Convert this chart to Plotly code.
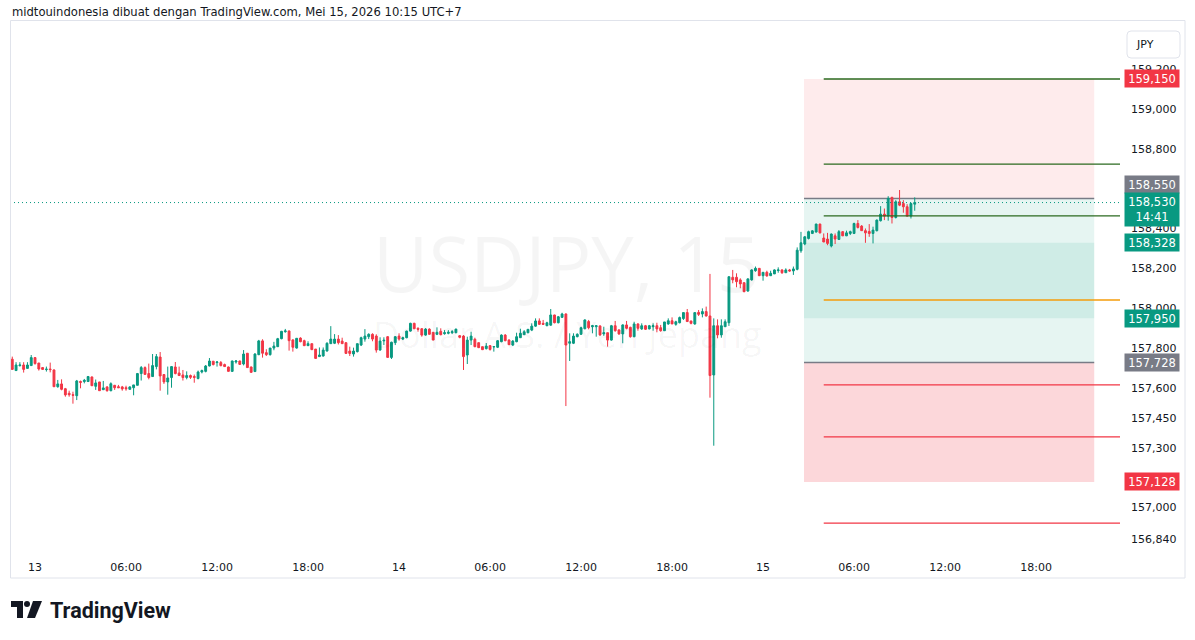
import pandas as pd
import plotly.graph_objects as go

# ---------------- data (USDJPY 15m) ----------------
START = "2026-05-12 22:30"
opens = [
    157.744, 157.687, 157.712, 157.715, 157.698, 157.712, 157.752, 157.725, 157.702, 157.692,
    157.695, 157.690, 157.606, 157.620, 157.596, 157.573, 157.566, 157.561, 157.632, 157.632,
    157.632, 157.655, 157.608, 157.630, 157.591, 157.605, 157.586, 157.613, 157.606, 157.605,
    157.601, 157.593, 157.601, 157.613, 157.672, 157.702, 157.672, 157.657, 157.707, 157.755,
    157.667, 157.630, 157.652, 157.705, 157.675, 157.665, 157.652, 157.662, 157.657, 157.647,
    157.680, 157.683, 157.710, 157.734, 157.727, 157.727, 157.717, 157.705, 157.683, 157.730,
    157.735, 157.720, 157.774, 157.705, 157.682, 157.767, 157.836, 157.777, 157.767, 157.800,
    157.807, 157.847, 157.882, 157.886, 157.841, 157.800, 157.850, 157.837, 157.812, 157.822,
    157.795, 157.757, 157.760, 157.785, 157.822, 157.824, 157.845, 157.835, 157.827, 157.785,
    157.770, 157.782, 157.815, 157.845, 157.857, 157.869, 157.860, 157.790, 157.836, 157.857,
    157.753, 157.827, 157.860, 157.845, 157.852, 157.885, 157.924, 157.899, 157.897, 157.865,
    157.895, 157.879, 157.869, 157.884, 157.872, 157.874, 157.877, 157.877, 157.862, 157.860,
    157.765, 157.840, 157.844, 157.827, 157.807, 157.797, 157.812, 157.806, 157.804, 157.832,
    157.865, 157.840, 157.815, 157.832, 157.852, 157.867, 157.877, 157.890, 157.910, 157.936,
    157.924, 157.912, 157.915, 157.966, 157.927, 157.954, 157.971, 157.824, 157.824, 157.857,
    157.869, 157.897, 157.933, 157.907, 157.907, 157.911, 157.871, 157.877, 157.840, 157.912,
    157.891, 157.871, 157.916, 157.904, 157.857, 157.921, 157.896, 157.912, 157.896, 157.907,
    157.912, 157.902, 157.887, 157.921, 157.937, 157.919, 157.927, 157.948, 157.978, 157.936,
    157.921, 157.979, 157.971, 157.983, 157.961, 157.665, 157.912, 157.866, 157.907, 157.927,
    158.155, 158.155, 158.142, 158.128, 158.086, 158.142, 158.188, 158.200, 158.163, 158.180,
    158.163, 158.172, 158.189, 158.192, 158.178, 158.192, 158.187, 158.195, 158.288, 158.322,
    158.350, 158.375, 158.382, 158.422, 158.352, 158.347, 158.312, 158.363, 158.345, 158.384,
    158.363, 158.375, 158.375, 158.425, 158.412, 158.389, 158.385, 158.375, 158.389, 158.439,
    158.472, 158.462, 158.556, 158.455, 158.534, 158.525, 158.509, 158.462, 158.522,
]
highs = [
    157.757, 157.729, 157.729, 157.729, 157.729, 157.765, 157.755, 157.725, 157.705, 157.707,
    157.727, 157.693, 157.640, 157.643, 157.600, 157.586, 157.581, 157.640, 157.637, 157.645,
    157.660, 157.657, 157.642, 157.630, 157.635, 157.608, 157.628, 157.615, 157.615, 157.610,
    157.611, 157.608, 157.615, 157.675, 157.710, 157.708, 157.722, 157.770, 157.770, 157.780,
    157.667, 157.707, 157.710, 157.730, 157.707, 157.690, 157.683, 157.667, 157.667, 157.687,
    157.692, 157.715, 157.750, 157.735, 157.735, 157.735, 157.722, 157.707, 157.737, 157.740,
    157.737, 157.790, 157.775, 157.707, 157.774, 157.841, 157.844, 157.794, 157.800, 157.831,
    157.851, 157.886, 157.896, 157.887, 157.844, 157.849, 157.854, 157.842, 157.834, 157.822,
    157.795, 157.803, 157.803, 157.829, 157.910, 157.870, 157.865, 157.852, 157.827, 157.807,
    157.802, 157.822, 157.857, 157.895, 157.874, 157.874, 157.869, 157.854, 157.854, 157.860,
    157.832, 157.860, 157.874, 157.857, 157.887, 157.927, 157.927, 157.904, 157.900, 157.900,
    157.899, 157.880, 157.904, 157.899, 157.890, 157.890, 157.890, 157.897, 157.865, 157.865,
    157.857, 157.882, 157.852, 157.827, 157.807, 157.825, 157.815, 157.808, 157.840, 157.869,
    157.870, 157.844, 157.840, 157.877, 157.897, 157.890, 157.894, 157.924, 157.949, 157.949,
    157.941, 157.932, 157.996, 157.967, 157.961, 157.977, 157.974, 157.874, 157.874, 157.874,
    157.907, 157.944, 157.941, 157.916, 157.912, 157.914, 157.907, 157.877, 157.916, 157.936,
    157.894, 157.919, 157.936, 157.907, 157.932, 157.924, 157.924, 157.916, 157.916, 157.924,
    157.927, 157.916, 157.931, 157.949, 157.954, 157.937, 157.958, 157.978, 157.996, 157.936,
    157.978, 157.991, 157.999, 158.008, 158.172, 157.949, 157.944, 157.944, 157.944, 158.158,
    158.192, 158.175, 158.150, 158.128, 158.150, 158.195, 158.209, 158.200, 158.180, 158.188,
    158.188, 158.195, 158.205, 158.195, 158.200, 158.197, 158.209, 158.305, 158.383, 158.362,
    158.389, 158.392, 158.424, 158.424, 158.375, 158.378, 158.375, 158.375, 158.392, 158.387,
    158.389, 158.389, 158.429, 158.442, 158.417, 158.400, 158.422, 158.409, 158.445, 158.512,
    158.500, 158.562, 158.559, 158.542, 158.593, 158.542, 158.522, 158.529, 158.556,
]
lows = [
    157.690, 157.687, 157.707, 157.677, 157.697, 157.712, 157.717, 157.687, 157.690, 157.682,
    157.678, 157.606, 157.601, 157.588, 157.556, 157.556, 157.521, 157.539, 157.598, 157.623,
    157.631, 157.610, 157.590, 157.586, 157.590, 157.581, 157.583, 157.590, 157.600, 157.586,
    157.586, 157.591, 157.563, 157.613, 157.637, 157.665, 157.643, 157.655, 157.693, 157.586,
    157.620, 157.566, 157.601, 157.668, 157.660, 157.637, 157.643, 157.645, 157.626, 157.643,
    157.673, 157.678, 157.708, 157.713, 157.707, 157.708, 157.705, 157.682, 157.680, 157.722,
    157.715, 157.713, 157.700, 157.677, 157.682, 157.764, 157.752, 157.760, 157.762, 157.789,
    157.805, 157.844, 157.877, 157.787, 157.782, 157.797, 157.829, 157.810, 157.812, 157.790,
    157.747, 157.755, 157.757, 157.783, 157.822, 157.820, 157.818, 157.822, 157.770, 157.760,
    157.757, 157.778, 157.810, 157.832, 157.845, 157.834, 157.777, 157.787, 157.815, 157.753,
    157.745, 157.815, 157.837, 157.840, 157.849, 157.882, 157.895, 157.882, 157.857, 157.862,
    157.867, 157.840, 157.865, 157.864, 157.867, 157.869, 157.870, 157.874, 157.849, 157.690,
    157.720, 157.815, 157.804, 157.800, 157.790, 157.793, 157.787, 157.782, 157.800, 157.829,
    157.834, 157.815, 157.810, 157.829, 157.852, 157.867, 157.874, 157.885, 157.907, 157.916,
    157.916, 157.910, 157.912, 157.924, 157.924, 157.951, 157.509, 157.735, 157.820, 157.854,
    157.866, 157.894, 157.894, 157.874, 157.857, 157.861, 157.861, 157.807, 157.837, 157.882,
    157.866, 157.824, 157.894, 157.852, 157.854, 157.887, 157.891, 157.891, 157.894, 157.887,
    157.879, 157.882, 157.887, 157.917, 157.921, 157.912, 157.924, 157.941, 157.933, 157.919,
    157.917, 157.961, 157.954, 157.958, 157.551, 157.310, 157.849, 157.852, 157.907, 157.911,
    158.125, 158.105, 158.100, 158.080, 158.083, 158.138, 158.183, 158.162, 158.138, 158.158,
    158.162, 158.172, 158.178, 158.172, 158.178, 158.183, 158.167, 158.190, 158.278, 158.316,
    158.345, 158.372, 158.380, 158.375, 158.332, 158.316, 158.305, 158.322, 158.342, 158.362,
    158.362, 158.367, 158.372, 158.400, 158.389, 158.328, 158.358, 158.325, 158.385, 158.435,
    158.442, 158.439, 158.425, 158.450, 158.512, 158.479, 158.459, 158.450, 158.489,
]
closes = [
    157.693, 157.715, 157.715, 157.693, 157.715, 157.752, 157.722, 157.695, 157.693, 157.694,
    157.692, 157.606, 157.620, 157.593, 157.565, 157.566, 157.563, 157.635, 157.628, 157.638,
    157.657, 157.611, 157.625, 157.586, 157.600, 157.586, 157.621, 157.601, 157.601, 157.595,
    157.596, 157.605, 157.615, 157.672, 157.702, 157.668, 157.652, 157.712, 157.757, 157.660,
    157.630, 157.650, 157.707, 157.672, 157.662, 157.652, 157.662, 157.653, 157.653, 157.680,
    157.687, 157.710, 157.735, 157.717, 157.730, 157.712, 157.707, 157.683, 157.735, 157.735,
    157.718, 157.770, 157.702, 157.678, 157.770, 157.836, 157.774, 157.767, 157.800, 157.810,
    157.847, 157.884, 157.886, 157.837, 157.804, 157.849, 157.832, 157.812, 157.822, 157.792,
    157.748, 157.765, 157.790, 157.824, 157.845, 157.845, 157.827, 157.822, 157.773, 157.773,
    157.785, 157.822, 157.852, 157.860, 157.869, 157.845, 157.790, 157.835, 157.839, 157.753,
    157.829, 157.857, 157.845, 157.852, 157.885, 157.924, 157.897, 157.894, 157.865, 157.895,
    157.869, 157.840, 157.879, 157.867, 157.877, 157.879, 157.882, 157.895, 157.854, 157.757,
    157.840, 157.860, 157.807, 157.802, 157.792, 157.810, 157.793, 157.807, 157.837, 157.865,
    157.837, 157.817, 157.835, 157.857, 157.874, 157.882, 157.894, 157.910, 157.936, 157.919,
    157.919, 157.927, 157.966, 157.927, 157.957, 157.971, 157.815, 157.832, 157.860, 157.869,
    157.902, 157.941, 157.902, 157.912, 157.912, 157.866, 157.877, 157.840, 157.912, 157.887,
    157.871, 157.916, 157.899, 157.857, 157.921, 157.899, 157.912, 157.894, 157.912, 157.912,
    157.896, 157.887, 157.931, 157.937, 157.921, 157.932, 157.953, 157.978, 157.933, 157.924,
    157.978, 157.969, 157.983, 157.961, 157.662, 157.912, 157.866, 157.912, 157.932, 158.158,
    158.142, 158.133, 158.122, 158.083, 158.147, 158.192, 158.200, 158.163, 158.180, 158.162,
    158.175, 158.192, 158.192, 158.178, 158.192, 158.187, 158.197, 158.291, 158.328, 158.358,
    158.384, 158.388, 158.422, 158.378, 158.332, 158.325, 158.372, 158.347, 158.384, 158.363,
    158.378, 158.384, 158.425, 158.405, 158.389, 158.378, 158.375, 158.392, 158.442, 158.472,
    158.462, 158.551, 158.455, 158.534, 158.517, 158.509, 158.462, 158.525, 158.530,
]

# time axis ticks
tick_times = ["2026-05-13 00:00", "2026-05-13 06:00", "2026-05-13 12:00", "2026-05-13 18:00",
              "2026-05-14 00:00", "2026-05-14 06:00", "2026-05-14 12:00", "2026-05-14 18:00",
              "2026-05-15 00:00", "2026-05-15 06:00", "2026-05-15 12:00", "2026-05-15 18:00"]
tick_time_text = ["13", "06:00", "12:00", "18:00", "14", "06:00", "12:00", "18:00",
                  "15", "06:00", "12:00", "18:00"]
# price axis ticks
price_ticks = [159.2, 159.0, 158.8, 158.4, 158.2, 158.0, 157.8, 157.6, 157.45, 157.3, 157.15, 157.0, 156.84]
price_tick_text = ["159,200", "159,000", "158,800", "158,400", "158,200", "158,000", "157,800",
                   "157,600", "157,450", "157,300", "157,150", "157,000", "156,840"]

# drawing tools (position boxes + horizontal levels)
BOX_START, BOX_END = "2026-05-15 02:42", "2026-05-15 21:50"
LINE_START = "2026-05-15 04:00"
zone_bounds = [(158.55, 159.15), (157.728, 158.55), (157.95, 158.328), (157.128, 157.728)]
zone_colors = ["rgba(242,54,69,0.10)", "rgba(8,153,129,0.10)", "rgba(8,153,129,0.10)", "rgba(242,54,69,0.20)"]
entry_levels = [158.55, 157.728]
level_prices = [159.15, 158.723, 158.463, 158.041, 157.615, 157.354, 156.922]
level_colors = ["#2b6a1f", "#2b6a1f", "#2b6a1f", "#f59d0b", "#f23645", "#f23645", "#f23645"]
badge_values = [159.15, 158.55, 158.328, 157.95, 157.728, 157.128]
badge_text = ["159,150", "158,550", "158,328", "157,950", "157,728", "157,128"]
badge_colors = ["#f23645", "#787b86", "#089981", "#089981", "#787b86", "#f23645"]
badge_shift = [0, 14, 0, 0, 0, 0]
last_price_text = "158,530<br>14:41"

X_RANGE = ["2026-05-12 22:21", "2026-05-15 23:32"]
Y_RANGE = [156.7767, 159.4460]

GREEN, RED, TXT = "#089981", "#f23645", "#131722"
FONT = "DejaVu Sans"

times = pd.date_range(START, periods=len(opens), freq="15min")

fig = go.Figure()
fig.add_trace(go.Candlestick(
    x=times, open=opens, high=highs, low=lows, close=closes,
    increasing=dict(line=dict(color=GREEN, width=1), fillcolor=GREEN),
    decreasing=dict(line=dict(color=RED, width=1), fillcolor=RED),
    whiskerwidth=0, hoverinfo="skip", showlegend=False,
))

# ---- layout geometry (pixels) ----
W, H = 1195, 640
PL, PR, PT, PB = 10, 1120, 20, 552


def px(x):
    return (x - PL) / (PR - PL)


def py(y):
    return (PB - y) / (PB - PT)


shapes = []
for (lo, hi), col in zip(zone_bounds, zone_colors):
    shapes.append(dict(type="rect", xref="x", yref="y", x0=BOX_START, x1=BOX_END, y0=lo, y1=hi,
                       fillcolor=col, line=dict(width=0), layer="below"))
for lv in entry_levels:
    shapes.append(dict(type="line", xref="x", yref="y", x0=BOX_START, x1=BOX_END, y0=lv, y1=lv,
                       line=dict(color="#787b86", width=1.5), layer="below"))
for lv, col in zip(level_prices, level_colors):
    shapes.append(dict(type="line", xref="x", yref="y", x0=LINE_START, x1=X_RANGE[1], y0=lv, y1=lv,
                       line=dict(color=col, width=1.3)))
# last price dotted line
shapes.append(dict(type="line", xref="paper", yref="y", x0=0, x1=1, y0=closes[-1], y1=closes[-1],
                   line=dict(color=GREEN, width=1, dash="1px,3px")))
# chart frame
shapes.append(dict(type="rect", xref="paper", yref="paper", x0=px(10.5), x1=px(1185), y0=py(20.5), y1=py(578),
                   line=dict(color="#e0e3eb", width=1), fillcolor="rgba(0,0,0,0)"))


def rounded_rect(x0, y0, x1, y1, r):
    pts = [
        f"M {px(x0 + r)} {py(y0)}", f"L {px(x1 - r)} {py(y0)}", f"Q {px(x1)} {py(y0)} {px(x1)} {py(y0 + r)}",
        f"L {px(x1)} {py(y1 - r)}", f"Q {px(x1)} {py(y1)} {px(x1 - r)} {py(y1)}",
        f"L {px(x0 + r)} {py(y1)}", f"Q {px(x0)} {py(y1)} {px(x0)} {py(y1 - r)}",
        f"L {px(x0)} {py(y0 + r)}", f"Q {px(x0)} {py(y0)} {px(x0 + r)} {py(y0)}", "Z"]
    return " ".join(pts)


shapes.append(dict(type="path", xref="paper", yref="paper", path=rounded_rect(1127, 31, 1180, 58, 4),
                   line=dict(color="#e0e3eb", width=1), fillcolor="white"))

# TradingView logo glyph
shapes.append(dict(type="path", xref="paper", yref="paper",
                   path=f"M {px(11)} {py(601)} L {px(23)} {py(601)} L {px(23)} {py(618)} L {px(17)} {py(618)} "
                        f"L {px(17)} {py(607)} L {px(11)} {py(607)} Z",
                   fillcolor=TXT, line=dict(width=0)))
shapes.append(dict(type="circle", xref="paper", yref="paper", x0=px(24), x1=px(30), y0=py(601), y1=py(607),
                   fillcolor=TXT, line=dict(width=0)))
shapes.append(dict(type="path", xref="paper", yref="paper",
                   path=f"M {px(33)} {py(601)} L {px(42)} {py(601)} L {px(35)} {py(618)} L {px(27)} {py(618)} Z",
                   fillcolor=TXT, line=dict(width=0)))

annotations = [
    dict(xref="paper", yref="paper", x=px(10), y=py(12), xanchor="left", yanchor="middle", showarrow=False,
         text="midtouindonesia dibuat dengan TradingView.com, Mei 15, 2026 10:15 UTC+7",
         font=dict(family=FONT, size=11.6, color=TXT)),
    dict(xref="paper", yref="paper", x=px(566), y=py(262), xanchor="center", yanchor="middle", showarrow=False,
         text="USDJPY, 15", font=dict(family="Open Sans", size=76, color="rgba(0,0,0,0.04)")),
    dict(xref="paper", yref="paper", x=px(567), y=py(334), xanchor="center", yanchor="middle", showarrow=False,
         text="Dollar A.S. / Yen Jepang", font=dict(family="Open Sans", size=36, color="rgba(0,0,0,0.04)")),
    dict(xref="paper", yref="paper", x=px(1145), y=py(44.5), xanchor="center", yanchor="middle", showarrow=False,
         text="JPY", font=dict(family=FONT, size=11, color=TXT)),
    dict(xref="paper", yref="paper", x=px(48), y=py(610), xanchor="left", yanchor="middle", showarrow=False,
         text="<b>TradingView</b>", font=dict(family="Roboto", size=21.5, color=TXT)),
]
for v, t, c, s in zip(badge_values, badge_text, badge_colors, badge_shift):
    annotations.append(dict(xref="paper", yref="y", x=px(1124), y=v, yshift=s, xanchor="left", yanchor="middle",
                            showarrow=False, text=t, bgcolor=c, width=50, height=13, borderpad=2, align="center",
                            font=dict(family=FONT, size=11.5, color="white")))
annotations.append(dict(xref="paper", yref="y", x=px(1124), y=closes[-1], yshift=-7, xanchor="left",
                        yanchor="middle", showarrow=False, text=last_price_text, bgcolor=GREEN, width=50,
                        height=29, borderpad=2, align="center",
                        font=dict(family=FONT, size=11.5, color="white")))

fig.update_layout(
    width=W, height=H, margin=dict(l=PL, r=W - PR, t=PT, b=H - PB),
    paper_bgcolor="white", plot_bgcolor="white",
    shapes=shapes, annotations=annotations, showlegend=False, hovermode=False,
    xaxis=dict(type="date", range=X_RANGE, rangeslider=dict(visible=False), showgrid=False, zeroline=False,
               showline=False, ticks="", tickvals=tick_times, ticktext=tick_time_text, ticklabelstandoff=7,
               tickfont=dict(family=FONT, size=11, color=TXT), fixedrange=True),
    yaxis=dict(side="right", range=Y_RANGE, showgrid=False, zeroline=False, showline=False, ticks="",
               tickvals=price_ticks, ticktext=price_tick_text, ticklabelstandoff=10,
               tickfont=dict(family=FONT, size=11, color=TXT), fixedrange=True),
)

fig.write_html("out.html", config={"displayModeBar": False})
